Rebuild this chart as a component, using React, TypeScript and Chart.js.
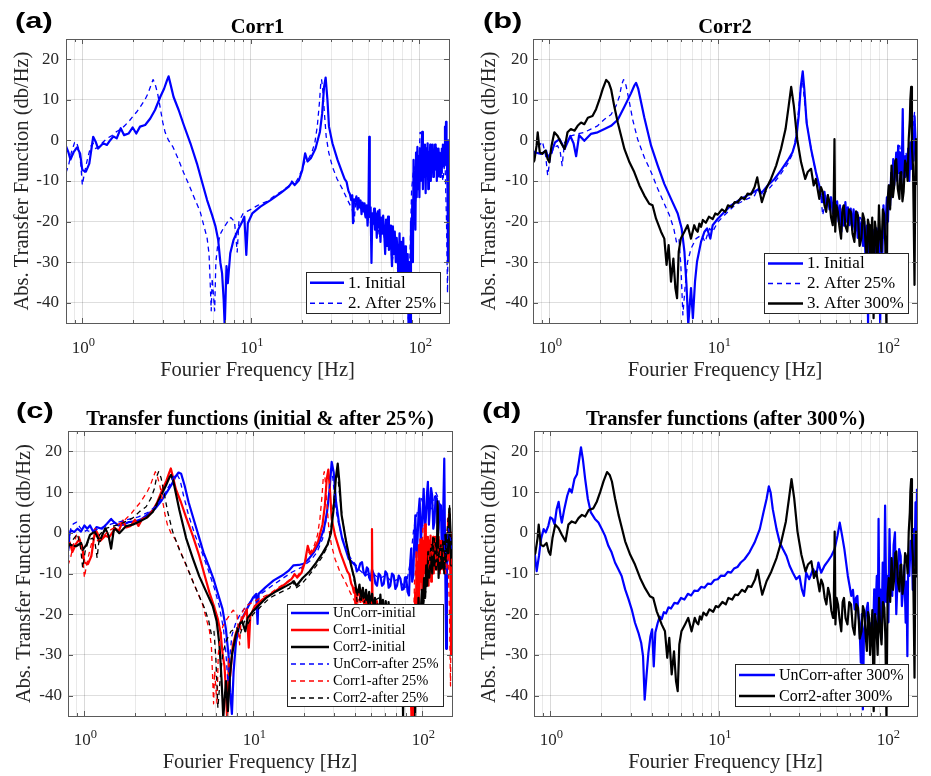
import React, { useEffect, useRef } from "react";
import { Chart, registerables } from "chart.js";

Chart.register(...registerables);

const SERIF = "'Liberation Serif', 'Times New Roman', Times, serif";
const SANS = "'Liberation Sans', Arial, Helvetica, sans-serif";

// ---------------- axes ----------------
const X_MIN = 0.8;
const X_MAX = 150;
const Y_MIN = -45;
const Y_MAX = 25;
const Y_TICKS = [-40, -30, -20, -10, 0, 10, 20];
const X_GRID = [0.8, 0.9, 1, 2, 3, 4, 5, 6, 7, 8, 9, 10, 20, 30, 40, 50, 60, 70, 80, 90, 100];
const X_MAJOR = [1, 10, 100];
const X_TICK_BASE = "10";
const X_TICK_EXPONENTS = ["0", "1", "2"];
const Y_TITLE = "Abs. Transfer Function (db/Hz)";
const X_TITLE = "Fourier Frequency [Hz]";

// ---------------- data (frequency in Hz, transfer function in dB/Hz) ----------------
const corr1InitF = [0.8,0.825,0.85,0.89,0.93,0.97,1.0,1.05,1.1,1.16,1.2,1.24,1.33,1.4,1.46,1.53,1.6,1.69,1.77,1.88,1.99,2.09,2.2,2.36,2.53,2.7,2.9,3.06,3.18,3.25,3.33,3.48,3.73,4.0,4.38,4.79,5.13,5.5,5.89,6.17,6.4,6.6,6.75,6.9,7.0,7.17,7.3,7.55,7.9,8.4,8.9,9.15,9.4,9.6,10.2,11.4,13.1,15,16.8,17.6,18.2,19.3,20.2,21,21.7,22.7,24.2,25.7,26.5,27.2,27.8,28.5,29.1,30.5,32.7,
  35,36,37,37.5,38,38.7,39.4,40,40.4,41,41.7,42.3,43,43.6,44.2,44.8,45.4,46,46.7,47.3,48,48.7,49.3,49.9,50.4,50.8,51.4,52,52.6,53.2,53.9,54.5,55.2,55.9,56.6,57.3,58,58.8,59.5,60.3,61,61.9,62.7,63.5,64.3,65.2,66,67,67.9,68.8,69.7,70.6,71.5,72.5,73.4,74.3,75.3,76.3,77.3,78.3,79.3,80.3,81.3,82.3,83.3,84.3,85.3,86.3,87.3,88.3,89.2,90,90.8,91.6,92.4,93.2,94,94.8,95.6,96.5,97.4,98.3,99.2,100.1,101,102,103,104,105,106,107,108,109,110,111,112,113,114,115,116,117,118,119,120,121,122,123,124,125,126,127,128,129,130,131,132,133,134,135,136,137,138,139,140,141,142,143,144,145,146,147,148,149,150];
const corr1InitV = [-1.4,-2.8,-4.7,-2.8,-1.7,-3.2,-7.3,-7.7,-5.7,0.9,-0.3,-2,-0.7,-1.1,0,1,0.5,3,1.3,1.7,3.2,1.7,3.4,3.8,5.4,7.5,10.7,12.8,14.8,15.8,14,10.7,7.5,3.8,-0.7,-5.7,-10.2,-14.7,-18.4,-21.2,-24.5,-30.2,-32.7,-39.3,-46,-31,-35.2,-27.8,-24.5,-22,-20,-18.8,-28.2,-20.4,-18,-16.3,-14.7,-13,-11.4,-10.2,-11,-9.8,-7.3,-3.2,-5.2,-4.4,-2,2.1,6.6,13.2,15.5,9.9,3.4,-0.7,-4.8,
  -8.1,-9.5,-10.2,-11.4,-12.5,-13.2,-14.7,-13.5,-20.4,-14.5,-15.1,-13.8,-17,-14.2,-16.5,-14.8,-18.2,-15.3,-17.5,-15.5,-19,-16,-21,-17,0.9,-18.8,-16.5,-30.2,-18,-20.5,-16.8,-22,-18,-24,-17.5,-21.5,-17.1,-25,-19,-23,-18.5,-22.9,-28,-19.5,-26,-18.8,-27,-21,-25.3,-31,-21.2,-28,-22.5,-30,-24,-27.8,-34,-22.9,-36,-25,-32.7,-24,-38,-26.1,-33,-40,-28,-46,-30,-46,-20,-28,-14.7,-30,-4.8,-18,-8,-22,-3,-14,-1.6,-12,-4,-14,-2,-10,-2,2.1,-12,-4,-9,-1,-13,-2,-7,-0.7,-12,-3,-8.1,-1,-10,-2,-6,-1,-9,-3,-7.3,-1,-5,-2,-10,-3,-8.9,-2,-6,-3,-9,-4.8,-8,-2,-6.5,-1,-5,-2,-6,3.4,-3,4.6,-3,-6.5,-12,-30,0,-5];

const corr1A25F = [0.8,0.83,0.86,0.9,0.92,0.95,0.98,1.0,1.03,1.07,1.12,1.16,1.2,1.25,1.32,1.4,1.5,1.6,1.7,1.8,1.9,2.0,2.1,2.2,2.35,2.45,2.55,2.63,2.7,2.8,2.9,3.0,3.1,3.25,3.45,3.7,4.0,4.3,4.6,5.0,5.3,5.5,5.65,5.75,5.82,5.9,6.0,6.1,6.2,6.35,6.6,6.9,7.3,7.6,8.0,8.3,8.5,9.0,9.5,10,11,12.5,14,15.7,17,17.5,18,19,20,21,22,23,24,24.8,25.5,26,26.3,26.8,27.3,28,29,30.5,32.5,35,37.5,40,41,42,44,46,48,50,52,54,56,58,60,63,66,69,72,75,78,81,84,86,88,90,92,93.5,95,97,99,101,103,105,107,110,112,115,118,121,124,127,130,134,138,142,145,147,149,150];
const corr1A25V = [-8,-6,-3,-0.5,-0.3,-2,-6,-11,-8,-4.8,-1.5,-0.7,-2,-1.6,-0.5,0.5,1.2,2.2,2.8,3.8,4.8,6,7,8.2,10,11.5,13.5,15,14,11.5,8,4.5,2,0,-1.6,-4.5,-8,-11,-14,-17.5,-21.5,-24,-28,-36,-42,-34,-38,-42,-30,-26,-23,-21.5,-20,-19,-20,-27.5,-20,-18,-17.5,-17,-16,-15,-13.5,-12.2,-11,-10,-11,-9.5,-7.5,-5,-4.5,-3,-0.5,3.5,9,14,15,12,7,1,-3,-6.5,-9.5,-12,-14.7,-17,-20,-15,-17,-16,-19,-17,-22,-19,-18.8,-24,-20,-26,-22,-30,-24,-34,-27,-38,-30,-44,-28,-12,-8,-6.5,-15,-4,-9,2,1.7,-6,-2,-9,-3,-6,-2,-8,-4,-7,-3,-6,-10,-5,-20,-37.6,-6.5,-8];

const corr2InitF = [0.8,0.815,0.893,0.956,0.977,1.03,1.08,1.15,1.23,1.33,1.39,1.44,1.5,1.61,1.76,1.93,2.12,2.32,2.54,2.78,3.04,3.19,3.26,3.36,3.65,4.0,4.38,4.79,5.25,5.75,6.07,6.3,6.48,6.64,6.89,7.07,7.28,7.48,7.9,8.28,8.58,8.97,9.26,9.93,10.9,11.9,13.6,15.6,16.9,17.4,18,19.6,21.5,23.5,25.7,27.5,28.8,29.9,30.8,31.6,32.3,33.3,35.4,
  37.8,38.7,39.6,40.5,41.5,42.5,43.5,44.5,45.5,46.5,47.6,48.5,49.5,50.5,51.5,52.5,53.5,54.5,55.5,56.5,57.5,58.5,59.7,60.8,62,63.2,64.4,65.6,66.8,68,69.3,70.6,71.9,73.2,74.5,75.8,77,78.3,79.6,81,82.4,83.8,85.2,86.6,88,89.4,90.8,92.2,93.6,95,96.5,98,99.5,101,102.5,104,105.5,107,108.5,110,111.5,113,114.5,116,117.5,119,120.5,122,123.5,125,126.5,128,129.5,131,133,135,137,139,141,143,145,147,148.5,150];
const corr2InitV = [-4,-2.9,-3.3,-2.5,-4.2,-2.9,-0.5,0.3,-2.1,1.1,-0.7,-3.9,1.3,-0.1,1.6,2,2.8,3.6,5.1,8.3,11.6,13.6,14.2,12.7,5.6,-1.3,-6.2,-10.7,-14.4,-18,-21.7,-27.4,-35.6,-45.4,-36.4,-43.8,-34.8,-29.9,-25,-22.5,-21.7,-24.2,-20.9,-19.3,-17.6,-16,-14.4,-13.1,-12.3,-11.9,-13,-11.1,-9.5,-7.4,-5,-2.9,-0.1,6,13.4,17,12.6,4.4,-2.1,
  -7.8,-9.5,-11.1,-13.5,-15.2,-12.7,-16.5,-13.5,-17,-14,-18,-14.5,-17.6,-15,-20,-16,-22.5,-17.6,-21,-15.2,-20,-16.5,-20.9,-16.8,-22,-17,-22.5,-18.4,-24,-19,-24.2,-20,-26,-20,-30,-21,-45.4,-22.5,-29,-21.7,-27.4,-22,-31,-21.7,-27.4,-24,-45.4,-22.5,-28,-16,-24,-19.3,-14,-20,-11.1,-16,-8,-13,-4.6,-11,-7.8,-3,-10,-1.3,-8,-3,-9,-6.2,7.7,-11.1,-4,-9,-3.8,-8.6,-2,-10,-0.5,-7,0,-5,6,0.3,-8,-1.3];

const corr2A25F = [0.8,0.815,0.87,0.91,0.95,0.977,1.01,1.06,1.12,1.16,1.19,1.23,1.34,1.47,1.61,1.76,1.93,2.12,2.32,2.48,2.6,2.68,2.75,2.84,2.98,3.11,3.33,3.65,4.0,4.38,4.79,5.13,5.45,5.65,5.85,6.0,6.17,6.35,6.58,6.9,7.38,7.97,8.35,8.87,9.26,9.93,10.9,12.5,14.2,16.4,17.1,17.9,19.6,21.5,23.5,25.7,27.5,28.8,29.9,30.8,31.5,32.3,33.8,36,38.6,40.4,41.5,43.5,46.5,50.9,55.6,61,66.6,73,78,83.5,89,96,105,111,116,118.5,123,129,135,140,145,148];
const corr2A25V = [-3.5,-2.9,-1.3,-0.3,-3.7,-8.6,-4.6,-1.7,-1.3,-2.9,-6.2,-0.5,1.1,1.6,2,2.8,3.6,5.2,6.4,8.5,10.9,13.8,15,13.6,9.3,5.2,0.3,-4.2,-7.8,-11.9,-15.6,-18.4,-21.7,-25,-24.2,-30.7,-43,-36.4,-29.9,-26.6,-24.2,-23.3,-25,-21.7,-22.5,-20.1,-18.4,-16,-14.8,-13.6,-11.9,-13.6,-12.3,-10.3,-8.2,-5.8,-3.3,1.1,7.7,13.8,14.6,10.1,2.8,-3.8,-9.5,-13.6,-18.4,-14.4,-15.2,-16.8,-16,-18.4,-17.6,-20.9,-25.8,-22.5,-27.4,-22.5,-14.4,-7.8,-4.6,-1.3,-6.2,-2.9,-8.6,0.3,6.9,-6.2];

const corr2A300F = [0.8,0.815,0.84,0.853,0.877,0.91,0.95,0.977,1.0,1.03,1.07,1.12,1.17,1.23,1.28,1.34,1.41,1.47,1.54,1.61,1.69,1.8,1.89,1.98,2.07,2.17,2.25,2.32,2.42,2.54,2.66,2.78,2.98,3.18,3.41,3.65,3.9,4.08,4.28,4.58,4.79,4.94,5.08,5.25,5.42,5.57,5.7,5.83,6.0,6.3,6.58,6.89,
  7.2,7.38,7.55,7.72,7.9,8.1,8.44,8.8,9.26,9.6,9.93,10.5,11,11.4,12,12.5,13,13.7,14.3,14.9,15.6,16.4,
  17,17.6,18.1,19.2,20.5,22,23.5,25,26.1,27,28,29.3,30.9,32.7,33.8,35.4,36.7,
  37.8,38.7,39.6,40.5,41.5,42.5,43.5,44.5,45.5,46.5,47.6,48.2,48.7,49.2,50,51,52,53.3,54.3,55.3,56.5,58,59.4,60.9,62.3,63.9,65.4,67,68.6,70.3,71.6,73,74.3,75.6,76.8,78,79,80.1,81.5,83,84.5,86,87.6,89.3,90.8,92.4,94.2,96,97.4,98.8,100.4,102,104,106,108,110,111.5,113,115.5,118,119.5,121,123,125,127.5,130,132,134,136,137,138.5,140,142,143.5,145,146.5,148,150];
const corr2A300V = [-5.5,-5,-1.3,2,-2.9,-3.3,-2.5,-4.6,-5.4,-1.3,2,1.1,-0.5,-2.1,2,2.8,2.4,3.6,4.4,4,5.6,6,7.7,10.1,12.7,14.9,14.2,12.6,8.5,4.4,1.1,-2.1,-5.4,-7.8,-11.1,-13.6,-15.6,-16,-19.3,-22.5,-24.2,-30.7,-25.8,-34.8,-29.1,-36.4,-38.9,-27.4,-24.2,-22.5,-20.9,-24.2,
  -20.9,-22,-22.5,-20.5,-21.3,-19.6,-20.3,-18.8,-19.4,-18,-18.3,-17,-17.6,-16,-16.4,-15.2,-15.3,-14,-14.5,-13.1,-13.3,-11.5,
  -9.1,-12.7,-15.2,-11.9,-9.5,-6.2,-2.1,2.8,8.5,13.2,8.5,0.3,-5.4,-9.5,-7.8,-7,-11.1,
  -9.5,-12,-14.4,-11.5,-12.7,-16,-17.6,-13.5,-15.2,-19,-20.9,-15,0.3,-22.5,-16,-17.6,-21,-24.2,-17,-16,-21,-22.5,-17,-17.6,-23,-25,-17.5,-18.4,-26,-24.2,-18,-19.3,-25,-29,-19.5,-20.9,-30,-25.8,-19,-43.8,-20,-22.5,-30,-16,-24,-27.4,-17,-18.4,-26,-45.4,-15,-11.1,-17,-6.2,-14,-11.1,-5,-4.6,-12,-14.4,-8,-7.8,-15,-12.7,-5,-6.2,-10,0.3,5,10.1,13.2,-2,-6.2,-20,-35.6,-10,0.3,-11];

const uncorrInitF = [0.8,0.81,0.83,0.87,0.91,0.955,1.0,1.04,1.08,1.13,1.18,1.27,1.36,1.44,1.5,1.59,1.7,1.82,2.0,2.19,2.4,2.62,2.87,3.08,3.3,3.45,3.61,3.74,3.92,4.14,4.43,4.74,5.07,5.43,5.81,6.22,6.57,6.88,7.14,7.3,7.47,7.64,7.89,8.26,8.76,9.38,10.0,10.4,10.6,10.75,11.8,13.2,14.8,16.2,17.3,18.6,19.9,21.3,22.8,24.4,26.2,27.3,28.3,29.1,29.9,30.9,32.1,33.6,35.1,36.7,38.4,
  40.2,41,42,43,44,45,46,47,47.8,48.5,49.3,50.4,51.6,52.8,54,55.2,56.5,57.8,59.2,60.5,61.9,63.3,64.7,66.2,67.8,69.3,70.9,72.6,74.3,76,77.7,79,80.3,81.9,83.5,84.7,86,87.2,88.5,89.7,91,92.4,93.8,95.1,96.5,97.9,99.3,100.6,102,103.5,105,106.5,108,109.5,111,112.7,114.5,116.2,118,120,122,123.5,125,127,129,130.5,132,133.5,135,136.5,138.5,140,142,144,146,148,150];
const uncorrInitV = [-3.1,-1.1,0.6,0.2,1,0.3,1.8,1,1.8,0.2,1.4,1,2.2,3.4,2.6,1.8,2,2.6,2.8,3.4,4.7,5.9,8,10,12,13.7,14.8,14.5,11.6,7.5,3.4,-0.7,-4.8,-8,-11.3,-15.4,-18.7,-23.6,-30.2,-39.2,-44.5,-34.3,-26.9,-22.8,-20.3,-17.9,-15.8,-15,-22.4,-15,-13.4,-11.7,-10.5,-9.3,-8,-7.9,-7.6,-6.4,-4.8,-2.7,1,5.1,10.8,17.4,14.9,7.5,2.6,-1.5,-3.9,-6.4,-7.2,
  -8,-9.5,-8.9,-7.5,-7.2,-9.8,-10.5,-8.5,-8.9,-11,-11.7,-9,-10.1,-12.5,-13,-10,-10.5,-13,-12.5,-9.5,-10.1,-13.5,-13,-10,-10.5,-13.8,-13,-10.5,-11.3,-14,-13.8,-11,-10.9,-14.5,-15.4,-8,-3.9,-12,-10.5,-2,4.3,-6,-1.5,5,8.4,-2,1,6,10.8,0,3.4,9,12.5,2,5.9,11,9.2,1,2.6,9,8.4,-1,1,7,6.7,-4,-2.3,8,18.2,-5,-28.5,-10,-0.7,-6,-7.2,-2.3,-8];

const uncorrA25F = [0.8,0.81,0.83,0.86,0.9,0.94,0.99,1.03,1.1,1.21,1.33,1.45,1.59,1.82,2.09,2.4,2.68,2.94,3.18,3.37,3.52,3.69,3.86,4.14,4.53,4.96,5.43,5.9,6.28,6.66,6.88,7.07,7.27,7.47,7.89,8.5,9.2,9.9,11.3,12.9,14.8,16.9,19.4,21.8,23.8,25.7,27.3,28.2,28.8,29.6,30.6,32.1,34.3,36.7,39.3,42,46,50.6,55.3,60.6,66.3,72.6,79.5,85,89,93.5,99,104,109,114,120,125,131,137,143,147,150];
const uncorrA25V = [-8.9,-3.1,1,2.2,2.6,1.4,0.2,0.6,0.2,1,1.6,2.2,2.6,3.3,3.9,5.1,6.7,9.2,11.6,13.7,14.5,12.9,9.2,4.3,-0.7,-4.8,-9.3,-13.8,-17.9,-23.6,-29.3,-36.7,-30.2,-25.2,-22,-19.5,-17.9,-16.2,-14.8,-13,-11.3,-9.7,-8.4,-6.8,-4.8,-1.5,4.3,10.8,15.7,13.3,6.7,1.8,-2.3,-5.6,-7.2,-8.9,-10.5,-9.7,-11.3,-10.5,-12.1,-11.3,-13.8,-7.2,1,5.1,8.4,5.1,9.2,5.9,10,8.4,2.6,-5.6,1,-1.5,-4];

const uncorrA300F = [0.8,0.815,0.83,0.856,0.88,0.913,0.94,0.973,1.0,1.03,1.06,1.09,1.12,1.15,1.17,1.21,1.26,1.3,1.34,1.39,1.44,1.48,1.52,1.56,1.61,1.67,1.74,1.84,1.93,2.02,2.11,2.21,2.31,2.42,2.53,2.65,2.78,2.91,3.04,3.18,3.33,3.46,3.55,3.63,3.72,3.82,3.93,4.02,4.11,4.2,
  4.34,4.46,4.58,4.72,4.86,5.03,5.2,5.45,5.7,5.97,6.25,6.55,6.85,7.15,7.5,7.85,8.22,8.6,9.0,9.4,9.86,10.3,10.8,11.3,11.8,12.3,12.9,13.5,14.2,
  15.2,16.3,17.5,18.4,19.2,19.8,20.3,20.9,22,23,24,25.2,26.3,27.5,28.8,30.1,31.1,32,33,34.4,36.3,37.8,39,40.5,42.4,44.5,46.5,48.7,50.6,52.2,53.9,55.6,
  58.3,59.7,61.1,62.5,64,65.2,66.4,67.3,68.3,69.6,70.6,71.6,72.7,73.8,75.2,76.6,78.5,80.4,82,83.6,85,86.6,87.7,88.7,89.6,90.6,92.2,93.9,95.4,97,98.5,100,101.5,103,105,107,109,111,113,115,117.5,120,122,124,126,128.5,130,131.5,133,135,137.5,140,141.5,143,145,147,148.5,150];
const uncorrA300V = [-3.2,-6.5,-9.4,-5.7,-1.6,0.9,0.1,1.7,3.8,3.4,2.1,5.8,7.6,4.2,2.5,5.8,9.1,10.8,9.9,13.2,14.4,17.7,21,18.1,13.2,8.3,5,3.4,2.5,0.9,-0.7,-3.2,-4.8,-7.3,-8.9,-10.6,-13.9,-16.3,-18.8,-22.1,-24.5,-27,-30.3,-41,-35.2,-29.5,-25.4,-23.7,-32.8,-24.5,
  -22.1,-20.6,-21.2,-19.5,-19.8,-18.3,-18.6,-17.2,-17.4,-16,-16.4,-15,-15.4,-14.2,-14.3,-13.3,-13.5,-12.5,-12.6,-11.6,-11.4,-10.5,-10.6,-9.6,-9.8,-8.8,-8.4,-7.3,-6.5,
  -4.8,-2.4,0.9,5,8.3,11.4,9.9,5.8,0.9,-2.4,-4,-5.7,-8.1,-9.8,-11.4,-10.6,-13.9,-15.5,-9.8,-11.4,-8.9,-10.6,-7.3,-9.8,-8.1,-6.9,-5.7,-4,-0.7,2.5,-0.7,-4,
  -10.6,-13,-15.5,-14,-18.8,-16,-15.5,-20,-22.1,-31.9,-20,-43.4,-24,-22.1,-19,-17.2,-25,-22.1,-28,-13.9,-20,-10.6,-25,3.4,-18,-13.9,-26,-7.3,-20,6.7,-17,-10.6,-22,0.9,-15,-15.5,-3,0.1,-20,-11.4,-4,-5.7,-18,-13.9,-8,-22.1,-12,-30.3,-6,-10.6,-2,-4,-14,0.9,-8,7.5,-2,10.8];

// ---------------- styles ----------------
const BLUE = "#0000ff";
const RED = "#ff0000";
const BLACK = "#000000";
const AXIS_COLOR = "#5a5a5a";
const TEXT_COLOR = "#262626";
const SOLID_W = 2.2;
const DASH_W = 1.3;

type Series = { label: string; f: number[]; v: number[]; color: string; dashed: boolean };

const PANELS = [
  {
    tag: "(a)", tagX: 15, tagY: 10,
    title: "Corr1", titleY: 28,
    left: 0, top: 0, w: 465, h: 388,
    area: { l: 66, t: 39, r: 449, b: 323 },
    yTickPad: 7, yTitlePad: 10, xLabelBase: 30, xTitlePad: 5,
    legendFont: 17, legendRow: 20.5, legendLine: 34,
    series: [
      { label: "1. Initial", f: corr1InitF, v: corr1InitV, color: BLUE, dashed: false },
      { label: "2. After 25%", f: corr1A25F, v: corr1A25V, color: BLUE, dashed: true },
    ] as Series[],
  },
  {
    tag: "(b)", tagX: 483, tagY: 10,
    title: "Corr2", titleY: 28,
    left: 465, top: 0, w: 466, h: 388,
    area: { l: 68, t: 39, r: 452, b: 323 },
    yTickPad: 5, yTitlePad: 12, xLabelBase: 30, xTitlePad: 5,
    legendFont: 17, legendRow: 20, legendLine: 35,
    series: [
      { label: "1. Initial", f: corr2InitF, v: corr2InitV, color: BLUE, dashed: false },
      { label: "2. After 25%", f: corr2A25F, v: corr2A25V, color: BLUE, dashed: true },
      { label: "3. After 300%", f: corr2A300F, v: corr2A300V, color: BLACK, dashed: false },
    ] as Series[],
  },
  {
    tag: "(c)", tagX: 16, tagY: 400,
    title: "Transfer functions (initial & after 25%)", titleY: 30,
    left: 0, top: 390, w: 465, h: 386,
    area: { l: 68, t: 41, r: 452, b: 326 },
    yTickPad: 6, yTitlePad: 12, xLabelBase: 29, xTitlePad: 1,
    legendFont: 14.5, legendRow: 17, legendLine: 38,
    series: [
      { label: "UnCorr-initial", f: uncorrInitF, v: uncorrInitV, color: BLUE, dashed: false },
      { label: "Corr1-initial", f: corr1InitF, v: corr1InitV, color: RED, dashed: false },
      { label: "Corr2-initial", f: corr2InitF, v: corr2InitV, color: BLACK, dashed: false },
      { label: "UnCorr-after 25%", f: uncorrA25F, v: uncorrA25V, color: BLUE, dashed: true },
      { label: "Corr1-after 25%", f: corr1A25F, v: corr1A25V, color: RED, dashed: true },
      { label: "Corr2-after 25%", f: corr2A25F, v: corr2A25V, color: BLACK, dashed: true },
    ] as Series[],
  },
  {
    tag: "(d)", tagX: 482, tagY: 400,
    title: "Transfer functions (after 300%)", titleY: 30,
    left: 465, top: 390, w: 466, h: 386,
    area: { l: 69, t: 41, r: 452, b: 326 },
    yTickPad: 6, yTitlePad: 12, xLabelBase: 29, xTitlePad: 1,
    legendFont: 16, legendRow: 21, legendLine: 36,
    series: [
      { label: "UnCorr-after 300%", f: uncorrA300F, v: uncorrA300V, color: BLUE, dashed: false },
      { label: "Corr2-after 300%", f: corr2A300F, v: corr2A300V, color: BLACK, dashed: false },
    ] as Series[],
  },
];

type PanelCfg = (typeof PANELS)[number];

function makeFramePlugin(cfg: PanelCfg) {
  return {
    id: "frame",
    afterDraw(chart: any) {
      const { ctx, chartArea: ca } = chart;
      const xs = chart.scales.x;
      const ys = chart.scales.y;
      ctx.save();
      // inner tick marks (MATLAB style)
      ctx.strokeStyle = AXIS_COLOR;
      ctx.lineWidth = 1;
      ctx.setLineDash([]);
      ctx.beginPath();
      for (const v of X_GRID) {
        const px = Math.round(xs.getPixelForValue(v)) + 0.5;
        const len = X_MAJOR.includes(v) ? 5 : 3;
        ctx.moveTo(px, ca.bottom);
        ctx.lineTo(px, ca.bottom - len);
        ctx.moveTo(px, ca.top);
        ctx.lineTo(px, ca.top + len);
      }
      for (const v of Y_TICKS) {
        const py = Math.round(ys.getPixelForValue(v)) + 0.5;
        ctx.moveTo(ca.left, py);
        ctx.lineTo(ca.left + 5, py);
        ctx.moveTo(ca.right, py);
        ctx.lineTo(ca.right - 5, py);
      }
      ctx.stroke();
      // box
      ctx.strokeRect(
        Math.round(ca.left) + 0.5,
        Math.round(ca.top) + 0.5,
        Math.round(ca.right - ca.left),
        Math.round(ca.bottom - ca.top)
      );
      // x tick labels 10^n with a raised exponent
      ctx.fillStyle = TEXT_COLOR;
      ctx.textAlign = "left";
      ctx.textBaseline = "alphabetic";
      X_MAJOR.forEach((v, i) => {
        const px = xs.getPixelForValue(v);
        const exp = X_TICK_EXPONENTS[i];
        ctx.font = `17px ${SERIF}`;
        const w1 = ctx.measureText(X_TICK_BASE).width;
        ctx.font = `12.5px ${SERIF}`;
        const w2 = ctx.measureText(exp).width;
        const x0 = px - (w1 + w2) / 2 + 1;
        const base = ca.bottom + cfg.xLabelBase;
        ctx.font = `17px ${SERIF}`;
        ctx.fillText(X_TICK_BASE, x0, base);
        ctx.font = `12.5px ${SERIF}`;
        ctx.fillText(exp, x0 + w1, base - 7);
      });
      // title
      ctx.fillStyle = "#000";
      ctx.font = `bold 20.5px ${SERIF}`;
      ctx.textAlign = "center";
      ctx.textBaseline = "middle";
      ctx.fillText(cfg.title, (ca.left + ca.right) / 2, cfg.titleY);
      // legend
      const fs = cfg.legendFont;
      ctx.font = `${fs}px ${SERIF}`;
      const series = cfg.series;
      const textW = Math.max(...series.map((s) => ctx.measureText(s.label).width));
      const padL = 4, gap = 4, padR = 4;
      const lineLen = cfg.legendLine;
      const rowH = cfg.legendRow;
      const boxW = Math.round(padL + lineLen + gap + textW + padR);
      const boxH = Math.round(series.length * rowH);
      const bx = Math.round(ca.right - 9 - boxW);
      const by = Math.round(ca.bottom - 10 - boxH);
      ctx.fillStyle = "#fff";
      ctx.fillRect(bx, by, boxW, boxH);
      ctx.strokeStyle = TEXT_COLOR;
      ctx.lineWidth = 1;
      ctx.strokeRect(bx + 0.5, by + 0.5, boxW, boxH);
      series.forEach((s, i) => {
        const cy = by + 0.5 + rowH * (i + 0.5);
        ctx.strokeStyle = s.color;
        ctx.lineWidth = s.dashed ? DASH_W : SOLID_W + 0.3;
        ctx.setLineDash(s.dashed ? [5, 4] : []);
        ctx.beginPath();
        ctx.moveTo(bx + padL, cy);
        ctx.lineTo(bx + padL + lineLen, cy);
        ctx.stroke();
        ctx.setLineDash([]);
        ctx.fillStyle = "#000";
        ctx.textAlign = "left";
        ctx.textBaseline = "middle";
        ctx.fillText(s.label, bx + padL + lineLen + gap, cy + 0.5);
      });
      ctx.restore();
    },
  };
}

function PanelChart({ cfg }: { cfg: PanelCfg }) {
  const ref = useRef<HTMLCanvasElement>(null);
  useEffect(() => {
    const canvas = ref.current;
    if (!canvas) return;
    const { area, w, h } = cfg;
    const n = cfg.series.length;
    const datasets = cfg.series.map((s, i) => {
      const len = Math.min(s.f.length, s.v.length);
      const data = [];
      for (let k = 0; k < len; k++) data.push({ x: s.f[k], y: s.v[k] });
      return {
        label: s.label,
        data,
        borderColor: s.color,
        backgroundColor: s.color,
        borderWidth: s.dashed ? DASH_W : SOLID_W,
        borderDash: s.dashed ? [5, 4] : [],
        borderJoinStyle: "round",
        pointRadius: 0,
        pointHoverRadius: 0,
        tension: 0,
        fill: false,
        order: n - i,
      };
    });
    const gridColorX = (c: any) =>
      c.tick && X_MAJOR.includes(c.tick.value) ? "rgba(0,0,0,0.15)" : "rgba(0,0,0,0.085)";
    const chart = new Chart(canvas, {
      type: "line",
      data: { datasets },
      options: {
        animation: false,
        responsive: false,
        devicePixelRatio: 1,
        events: [],
        layout: { padding: { left: 0, top: area.t, right: w - area.r, bottom: 0 } },
        plugins: {
          legend: { display: false },
          tooltip: { enabled: false },
          title: { display: false },
        },
        scales: {
          x: {
            type: "logarithmic",
            min: X_MIN,
            max: X_MAX,
            afterBuildTicks: (sc: any) => {
              sc.ticks = X_GRID.map((value) => ({ value }));
            },
            afterFit: (sc: any) => {
              sc.height = h - area.b;
            },
            ticks: {
              autoSkip: false,
              maxRotation: 0,
              minRotation: 0,
              padding: 14,
              color: TEXT_COLOR,
              font: { family: SERIF, size: 17 },
              callback: () => "",
            },
            grid: { drawTicks: false, color: gridColorX, lineWidth: 1 },
            border: { display: false },
            title: {
              display: true,
              text: X_TITLE,
              color: TEXT_COLOR,
              font: { family: SERIF, size: 20.5 },
              padding: { top: 0, bottom: cfg.xTitlePad },
            },
          },
          y: {
            type: "linear",
            min: Y_MIN,
            max: Y_MAX,
            afterBuildTicks: (sc: any) => {
              sc.ticks = Y_TICKS.map((value) => ({ value }));
            },
            afterFit: (sc: any) => {
              sc.width = area.l;
            },
            ticks: {
              padding: cfg.yTickPad,
              color: TEXT_COLOR,
              font: { family: SERIF, size: 17 },
              callback: (val: any) => String(val),
            },
            grid: { drawTicks: false, color: "rgba(0,0,0,0.13)", lineWidth: 1 },
            border: { display: false },
            title: {
              display: true,
              text: Y_TITLE,
              color: TEXT_COLOR,
              font: { family: SERIF, size: 20.5 },
              padding: { top: cfg.yTitlePad, bottom: 0 },
            },
          },
        },
      } as any,
      plugins: [makeFramePlugin(cfg)],
    });
    return () => chart.destroy();
  }, [cfg]);
  return (
    <canvas
      ref={ref}
      width={cfg.w}
      height={cfg.h}
      style={{ position: "absolute", left: cfg.left, top: cfg.top, width: cfg.w, height: cfg.h }}
    />
  );
}

export default function App() {
  return (
    <div
      style={{
        position: "absolute",
        left: 0,
        top: 0,
        width: 931,
        height: 776,
        background: "#fff",
        overflow: "hidden",
      }}
    >
      {PANELS.map((p) => (
        <PanelChart key={p.tag} cfg={p} />
      ))}
      {PANELS.map((p) => (
        <div
          key={"tag" + p.tag}
          style={{
            position: "absolute",
            left: p.tagX,
            top: p.tagY,
            font: `bold 22px ${SANS}`,
            lineHeight: "22px",
            color: "#000",
            transform: "scaleX(1.4)",
            transformOrigin: "left top",
            whiteSpace: "nowrap",
          }}
        >
          {p.tag}
        </div>
      ))}
    </div>
  );
}
